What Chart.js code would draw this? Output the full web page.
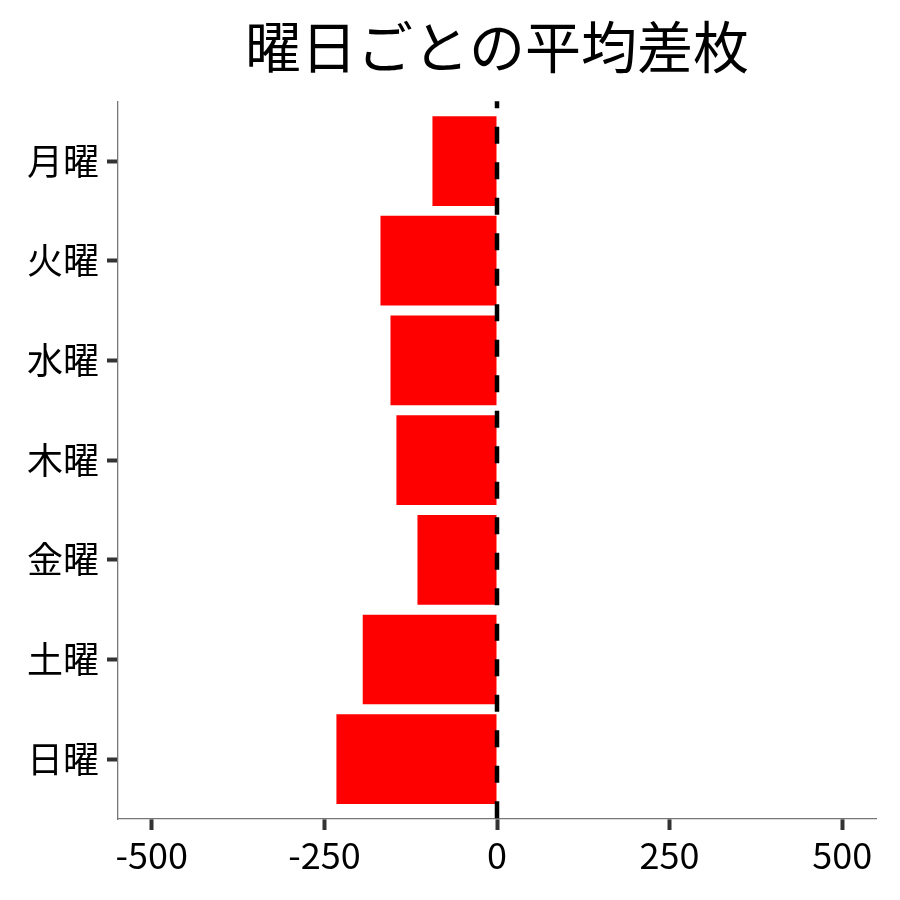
<!DOCTYPE html>
<html lang="ja">
<head>
<meta charset="utf-8">
<title>曜日ごとの平均差枚</title>
<script src="https://cdn.jsdelivr.net/npm/chart.js@4/dist/chart.umd.min.js"></script>
<style>
  html, body { margin: 0; padding: 0; background: #fff; }
  #chart { display: block; }
</style>
</head>
<body>
<canvas id="chart" width="900" height="900"></canvas>
<script>
// data
const days = ['月曜', '火曜', '水曜', '木曜', '金曜', '土曜', '日曜'];
const avgDiff = [-93.5, -168.8, -154.3, -145.7, -115.2, -194.5, -232.6];
const xTicks = [-500, -250, 0, 250, 500];
const refLine = [0];

const FONT = "'Noto Sans CJK JP', 'Noto Sans', sans-serif";

// dashed reference line at x = 0, drawn over the bars
const refLinePlugin = {
    id: 'refLine',
    afterDatasetsDraw(chart) {
        const ctx = chart.ctx;
        const area = chart.chartArea;
        const xScale = chart.scales.x;
        refLine.forEach(v => {
            const px = xScale.getPixelForValue(v);
            ctx.save();
            ctx.strokeStyle = '#000';
            ctx.lineWidth = 4.5;
            ctx.setLineDash([17, 18.5]);
            ctx.lineDashOffset = 10;
            ctx.beginPath();
            ctx.moveTo(px, area.top);
            ctx.lineTo(px, area.bottom);
            ctx.stroke();
            ctx.restore();
        });
    }
};

new Chart(document.getElementById('chart'), {
    type: 'bar',
    data: {
        datasets: [{
            data: avgDiff.map((v, i) => ({ x: v, y: i })),
            backgroundColor: '#ff0000',
            borderWidth: 0,
            barPercentage: 0.9,
            categoryPercentage: 1
        }]
    },
    options: {
        indexAxis: 'y',
        responsive: false,
        animation: false,
        events: [],
        layout: { padding: { left: 0, right: 24, top: 0, bottom: 0 } },
        plugins: {
            legend: { display: false },
            tooltip: { enabled: false },
            title: {
                display: true,
                fullSize: false,
                text: '曜日ごとの平均差枚',
                color: '#000',
                font: { family: FONT, size: 56, weight: 'normal', lineHeight: 1.2 },
                padding: { top: 13, bottom: 21 }
            }
        },
        scales: {
            x: {
                type: 'linear',
                min: -549,
                max: 549,
                afterBuildTicks: scale => { scale.ticks = xTicks.map(v => ({ value: v })); },
                afterFit: scale => { scale.height = 81; },
                grid: { drawOnChartArea: false, drawTicks: true, tickLength: 11, tickWidth: 4, tickColor: '#333' },
                border: { display: true, color: '#777', width: 1.3 },
                ticks: {
                    color: '#000',
                    padding: 4,
                    maxRotation: 0,
                    font: { family: FONT, size: 36 },
                    callback: v => String(v)
                }
            },
            y: {
                type: 'linear',
                reverse: true,
                offset: false,
                min: -0.6,
                max: 6.6,
                afterBuildTicks: scale => { scale.ticks = days.map((d, i) => ({ value: i })); },
                afterFit: scale => { scale.width = 118; },
                grid: { offset: false, drawOnChartArea: false, drawTicks: true, tickLength: 11, tickWidth: 4, tickColor: '#333' },
                border: { display: true, color: '#777', width: 1.3 },
                ticks: {
                    color: '#000',
                    padding: 8,
                    font: { family: FONT, size: 36 },
                    callback: v => days[v]
                }
            }
        }
    },
    plugins: [refLinePlugin]
});
</script>
</body>
</html>
